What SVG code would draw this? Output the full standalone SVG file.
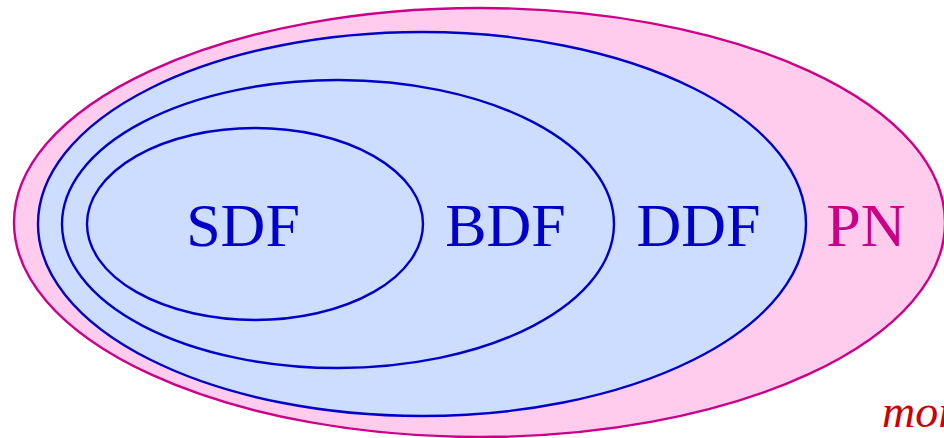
<svg xmlns="http://www.w3.org/2000/svg" width="944" height="438" viewBox="0 0 944 438">
<style>
.set{fill:#CCDDFF;stroke:#0000C8;stroke-width:2.4}
.lbl{font-family:"Liberation Serif","Times New Roman",serif;font-size:62px;fill:#0000C8;text-anchor:middle}
</style>
<rect width="944" height="438" fill="#ffffff"/>
<g id="PN">
<ellipse cx="479.5" cy="222.5" rx="465.5" ry="214.5" fill="#FFCCEE" stroke="#CC0088" stroke-width="2.4"/>
<text class="lbl" x="866" y="246" style="fill:#CC0088">PN</text>
</g>
<g id="DDF">
<ellipse class="set" cx="422" cy="224" rx="384" ry="192"/>
<text class="lbl" x="698.5" y="246">DDF</text>
</g>
<g id="BDF">
<ellipse class="set" cx="338" cy="224" rx="276" ry="144"/>
<text class="lbl" x="505.5" y="246">BDF</text>
</g>
<g id="SDF">
<ellipse class="set" cx="255" cy="224" rx="168" ry="96"/>
<text class="lbl" x="243" y="246">SDF</text>
</g>
<g id="connectors"/>
<text x="882" y="427" font-family="Liberation Serif,'Times New Roman',serif" font-style="italic" font-size="46" fill="#CC0000">more</text>
</svg>
